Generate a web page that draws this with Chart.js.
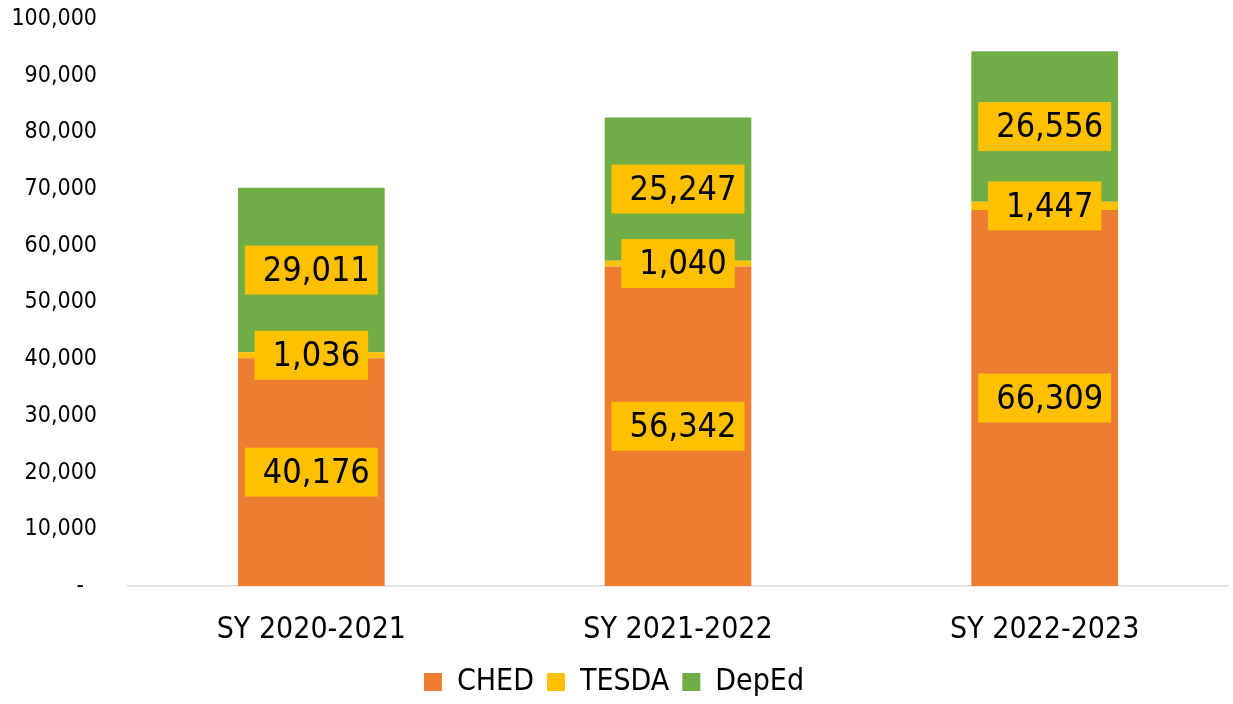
<!DOCTYPE html>
<html>
<head>
<meta charset="utf-8">
<script src="https://cdn.jsdelivr.net/npm/chart.js@4/dist/chart.umd.min.js"></script>
<style>
  html, body { margin: 0; padding: 0; background: #fff; }
  #wrap { width: 1233px; height: 704px; }
</style>
</head>
<body>
<div id="wrap"><canvas id="c" width="1233" height="704"></canvas></div>
<script>
const categories = ['SY 2020-2021', 'SY 2021-2022', 'SY 2022-2023'];
const ched = [40176, 56342, 66309];
const tesda = [1036, 1040, 1447];
const deped = [29011, 25247, 26556];
const seriesNames = ['CHED', 'TESDA', 'DepEd'];
const seriesColors = ['#ED7D31', '#FFC000', '#70AD47'];

const FONT = '"DejaVu Sans Condensed", "DejaVu Sans", sans-serif';
const fmt = v => v.toLocaleString('en-US');

const labelPlugin = {
  id: 'boxLabels',
  afterDatasetsDraw(chart) {
    const ctx = chart.ctx;
    ctx.save();
    ctx.font = '34px ' + FONT;
    ctx.textAlign = 'center';
    ctx.textBaseline = 'middle';
    chart.data.datasets.forEach((ds, di) => {
      const meta = chart.getDatasetMeta(di);
      meta.data.forEach((el, i) => {
        const txt = fmt(ds.data[i]);
        const cy = (el.y + el.base) / 2;
        const w = ctx.measureText(txt).width + 26;
        const h = 49;
        ctx.fillStyle = '#FFC000';
        ctx.fillRect(el.x - w / 2, cy - h / 2, w, h);
        ctx.fillStyle = '#000';
        ctx.fillText(txt, el.x + 5, cy + 2);
      });
    });
    ctx.restore();
  }
};

new Chart(document.getElementById('c'), {
  type: 'bar',
  data: {
    labels: categories,
    datasets: [
      { label: seriesNames[0], data: ched, backgroundColor: seriesColors[0] },
      { label: seriesNames[1], data: tesda, backgroundColor: seriesColors[1] },
      { label: seriesNames[2], data: deped, backgroundColor: seriesColors[2] }
    ]
  },
  options: {
    responsive: false,
    animation: false,
    layout: { padding: { top: 0, right: 5, left: 0, bottom: -3 } },
    datasets: { bar: { categoryPercentage: 1, barPercentage: 0.4 } },
    scales: {
      x: {
        stacked: true,
        grid: { display: false },
        border: { display: true, color: '#d9d9d9', width: 1.5 },
        ticks: { color: '#000', font: { family: FONT, size: 30 }, padding: 18 },
        afterFit(scale) { scale.height = 68; }
      },
      y: {
        stacked: true,
        min: 0, max: 100000,
        grid: { display: false, drawTicks: false },
        border: { display: false },
        ticks: {
          stepSize: 10000,
          color: '#000',
          padding: 31,
          font: { family: FONT, size: 23 },
          callback: v => v === 0 ? '-  ' : fmt(v)
        },
        afterFit(scale) { scale.width = 128; scale.paddingTop = 19; scale.paddingBottom = 0; }
      }
    },
    plugins: {
      legend: {
        position: 'bottom',
        labels: {
          color: '#000',
          boxWidth: 18, boxHeight: 18,
          padding: 13,
          font: { family: FONT, size: 30 }
        }
      },
      tooltip: { enabled: false }
    }
  },
  plugins: [labelPlugin]
});
</script>
</body>
</html>
